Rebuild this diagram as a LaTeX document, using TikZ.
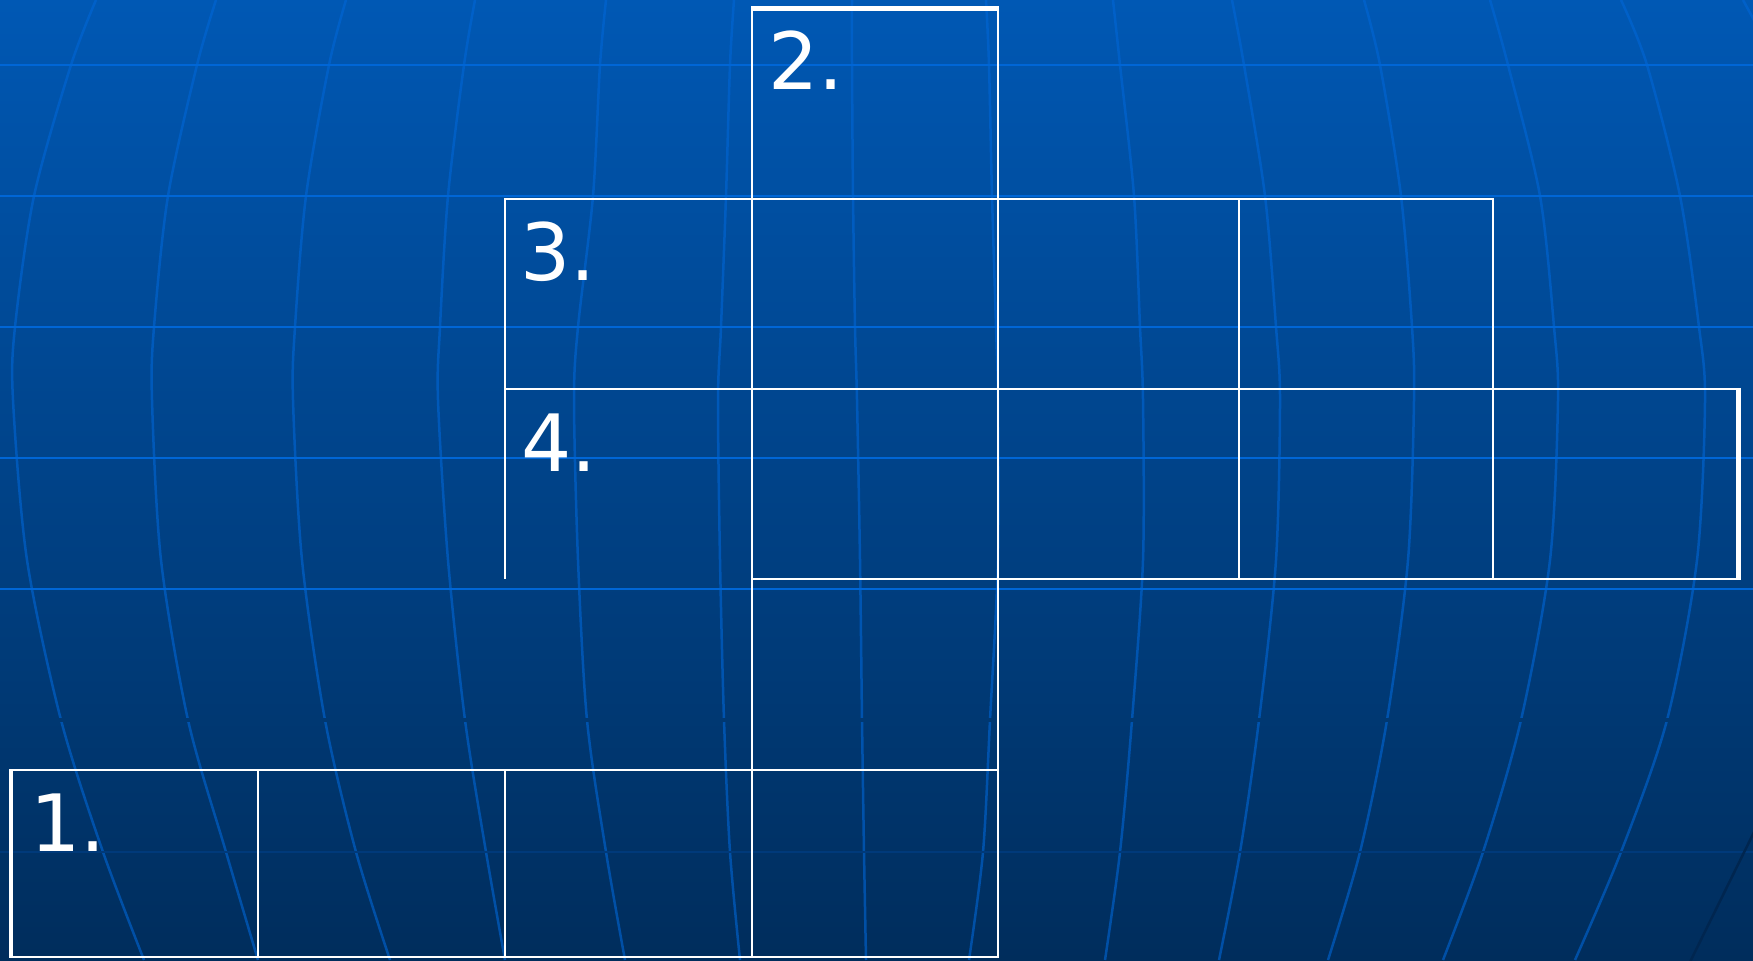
\documentclass[tikz,border=0pt]{standalone}
\usepackage{fontspec}
\setmainfont{DejaVu Sans}
\definecolor{bgtop}{RGB}{0,88,180}
\definecolor{bgbot}{RGB}{0,45,92}
\definecolor{gridblue}{RGB}{0,102,214}
\definecolor{darkline}{RGB}{0,58,122}
\definecolor{gapcol}{RGB}{0,56,114}
\definecolor{darkarc}{RGB}{0,38,80}
\tikzset{
  meridian/.style={draw=gridblue, draw opacity=0.6, line width=0.05cm},
  parallel/.style={draw=gridblue, line width=0.05cm},
  cell/.style={draw=white, line width=0.04cm},
  thickedge/.style={draw=white, line width=0.1cm},
  numlabel/.style={text=white, font=\fontsize{45}{50}\selectfont, anchor=base west, inner sep=0pt},
}
\begin{document}
\begin{tikzpicture}[x=0.02cm,y=0.02cm]
\shade[top color=bgtop, bottom color=bgbot] (0,0) rectangle (1753,960);
\useasboundingbox (0,0) rectangle (1753,960);
\begin{scope}[shift={(0,960)}, yscale=-1]
  \clip (0,0) rectangle (1753,960);
  % meridians
  \draw[meridian] plot[smooth] coordinates {(96,0)(71,65)(34,196)(15,327)(13,400)(27,560)(61,720)(103,852)(144,960)};
  \draw[meridian] plot[smooth] coordinates {(216,0)(197,65)(168,196)(154,327)(152,400)(161,560)(188,720)(226,852)(258,960)};
  \draw[meridian] plot[smooth] coordinates {(346,0)(329,65)(306,196)(295,327)(293,400)(302,560)(325,720)(356,852)(390,960)};
  \draw[meridian] plot[smooth] coordinates {(475,0)(464,65)(448,196)(440,327)(438,400)(448,560)(465,720)(486,852)(505,960)};
  \draw[meridian] plot[smooth] coordinates {(606,0)(600,65)(593,196)(578,327)(574,400)(578,560)(587,720)(606,852)(625,960)};
  \draw[meridian] plot[smooth] coordinates {(734,0)(730,65)(726,196)(721,327)(718,400)(720,560)(724,720)(730,852)(740,960)};
  \draw[meridian] plot[smooth] coordinates {(852,0)(852,65)(853,196)(855,327)(857,400)(860,560)(862,720)(864,852)(866,960)};
  \draw[meridian] plot[smooth] coordinates {(986,0)(989,65)(992,196)(996,327)(998,400)(998,560)(990,720)(983,852)(969,960)};
  \draw[meridian] plot[smooth] coordinates {(1113,0)(1120,65)(1134,196)(1140,327)(1143,400)(1143,560)(1132,720)(1120,852)(1105,960)};
  \draw[meridian] plot[smooth] coordinates {(1232,0)(1244,65)(1265,196)(1276,327)(1280,400)(1276,560)(1259,720)(1240,852)(1219,960)};
  \draw[meridian] plot[smooth] coordinates {(1364,0)(1380,65)(1401,196)(1412,327)(1414,400)(1408,560)(1387,720)(1360,852)(1328,960)};
  \draw[meridian] plot[smooth] coordinates {(1490,0)(1508,65)(1540,196)(1554,327)(1558,400)(1550,560)(1521,720)(1483,852)(1443,960)};
  \draw[meridian] plot[smooth] coordinates {(1621,0)(1647,65)(1680,196)(1699,327)(1705,400)(1697,560)(1667,720)(1621,852)(1575,960)};
  \draw[meridian] (1743,0) -- (1755,22);
  % gap band
  \draw[draw=gapcol, line width=0.08cm] (0,720) -- (1753,720);
  % parallels
  \foreach \yy in {65,196,327,458,589}
    \draw[parallel] (0,\yy) -- (1753,\yy);
  \draw[draw=darkline, line width=0.05cm] (0,852) -- (1753,852);
  \draw[draw=darkarc, line width=0.05cm] (1756,828) -- (1690,962);
\end{scope}
\begin{scope}[shift={(0,960)}, yscale=-1]
  % column of word 2
  \draw[cell] (752,8) rectangle (998,199);
  \draw[cell] (752,579) rectangle (998,770);
  % row of word 3
  \foreach \a/\b in {505/752,752/998,998/1239,1239/1493}
    \draw[cell] (\a,199) rectangle (\b,389);
  % row of word 4
  \foreach \a/\b in {752/998,998/1239,1239/1493,1493/1737}
    \draw[cell] (\a,389) rectangle (\b,579);
  \draw[cell] (752,389) -- (505,389) -- (505,579);
  % row of word 1
  \foreach \a/\b in {11/258,258/505,505/752,752/998}
    \draw[cell] (\a,770) rectangle (\b,957);
  % thick outer edges
  \draw[thickedge] (751,9) -- (999,9);
  \draw[thickedge] (11,769) -- (11,958);
  \draw[thickedge] (1738,388) -- (1738,580);
  % labels
  \node[numlabel] (l2) at (768,90) {2.};
  \node[numlabel] (l3) at (520,281) {3.};
  \node[numlabel] (l4) at (521,472) {4.};
  \node[numlabel] (l1) at (30,851) {1.};
\end{scope}
\end{tikzpicture}
\end{document}
